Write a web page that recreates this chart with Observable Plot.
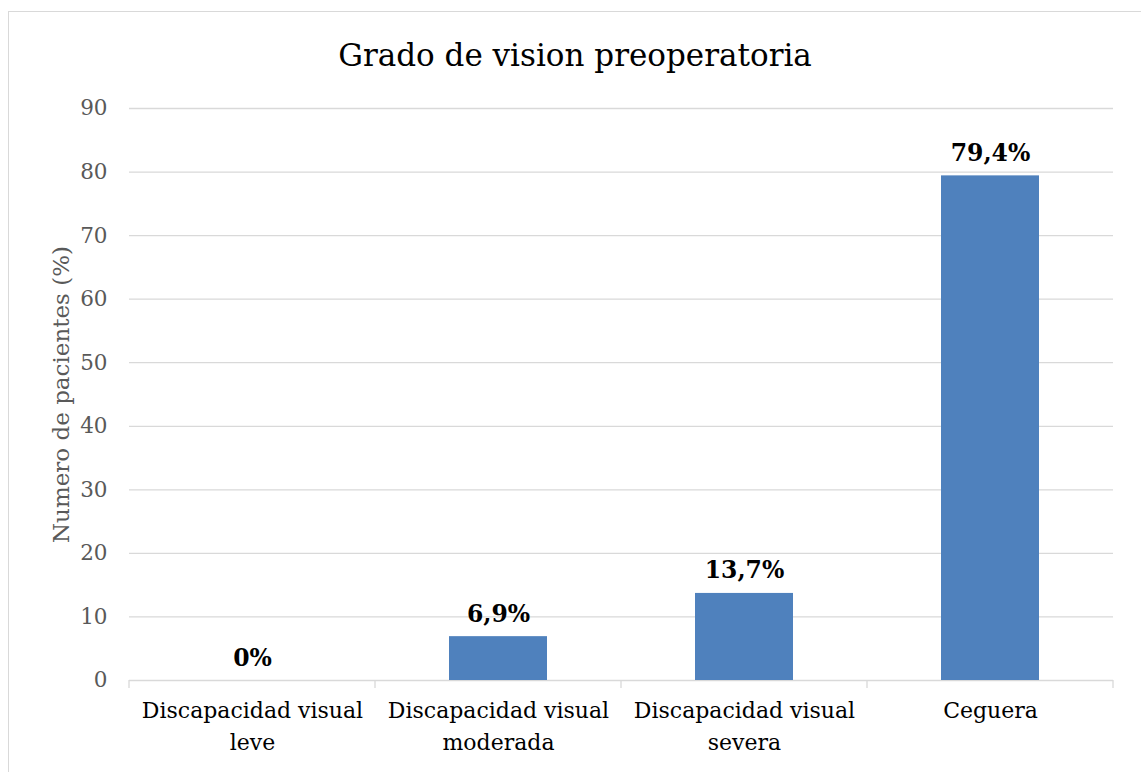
<!DOCTYPE html>
<html>
<head>
<meta charset="utf-8">
<script src="https://cdn.jsdelivr.net/npm/d3@7"></script>
<script src="https://cdn.jsdelivr.net/npm/@observablehq/plot@0.6"></script>
<style>
  html, body { margin: 0; padding: 0; background: #fff; overflow: hidden; }
  #frame { position: absolute; left: 8px; top: 11px; width: 1200px; height: 800px; border: 1.5px solid #d9d9d9; box-sizing: border-box; }
  #chart { position: absolute; left: 0; top: 0; width: 1141px; }
  #title { height: 90px; box-sizing: border-box; padding-top: 37px; padding-left: 9px; text-align: center;
           font-family: "DejaVu Serif", serif; font-size: 31px; line-height: 36px; color: #000; }
</style>
</head>
<body>
<div id="frame"></div>
<div id="chart"><div id="title">Grado de vision preoperatoria</div></div>
<script>
const categories = ["Discapacidad visual leve", "Discapacidad visual moderada", "Discapacidad visual severa", "Ceguera"];
const categoryLabels = ["Discapacidad visual\nleve", "Discapacidad visual\nmoderada", "Discapacidad visual\nsevera", "Ceguera"];
const values = [0, 6.9, 13.7, 79.4];
const valueLabels = ["0%", "6,9%", "13,7%", "79,4%"];
const yTicks = [0, 10, 20, 30, 40, 50, 60, 70, 80, 90];
const yLabel = "Numero de pacientes (%)";

const data = categories.map((c, i) => ({cat: c, value: values[i], label: valueLabels[i], tick: categoryLabels[i]}));
const tickText = new Map(data.map(d => [d.cat, d.tick]));

const boundaryTicks = (index, scales) => {
  const x = scales.x, y = scales.y;
  const bw = x.bandwidth();
  const step = x.step ? x.step() : bw / 0.4;
  const dom = x.domain();
  const edges = dom.map(d => x(d) + bw / 2 - step / 2);
  edges.push(x(dom[dom.length - 1]) + bw / 2 + step / 2);
  const y0 = y(0);
  const g = document.createElementNS("http://www.w3.org/2000/svg", "g");
  for (const e of edges) {
    const l = document.createElementNS("http://www.w3.org/2000/svg", "line");
    l.setAttribute("x1", e); l.setAttribute("x2", e);
    l.setAttribute("y1", y0); l.setAttribute("y2", y0 + 8);
    l.setAttribute("stroke", "#d9d9d9"); l.setAttribute("stroke-width", 1.3);
    g.appendChild(l);
  }
  return g;
};

const chart = Plot.plot({
  width: 1141,
  height: 682,
  marginTop: 18,
  marginLeft: 129,
  marginRight: 28,
  marginBottom: 92,
  style: {fontFamily: "DejaVu Serif, serif", background: "transparent", overflow: "visible"},
  x: {domain: categories, paddingInner: 0.6, paddingOuter: 0.3},
  y: {domain: [0, 90]},
  marks: [
    Plot.gridY(yTicks, {stroke: "#d9d9d9", strokeOpacity: 1, strokeWidth: 1.3}),
    boundaryTicks,
    Plot.barY(data, {x: "cat", y: "value", fill: "#4f81bd"}),
    Plot.text(data, {x: "cat", y: "value", text: "label", lineAnchor: "bottom", dy: -15, fontSize: 23.5, fontWeight: "bold", fill: "#000"}),
    Plot.axisY(yTicks, {tickSize: 0, tickPadding: 22, fontSize: 21.5, color: "#595959", label: null}),
    Plot.axisX({tickSize: 0, tickPadding: 15, fontSize: 22, lineHeight: 1.45, fill: "#000", tickFormat: d => tickText.get(d), label: null}),
    Plot.text([yLabel], {frameAnchor: "left", textAnchor: "middle", lineAnchor: "middle", rotate: -90, dx: -68, fontSize: 23, fill: "#595959"})
  ]
});
document.getElementById("chart").appendChild(chart);
</script>
</body>
</html>
